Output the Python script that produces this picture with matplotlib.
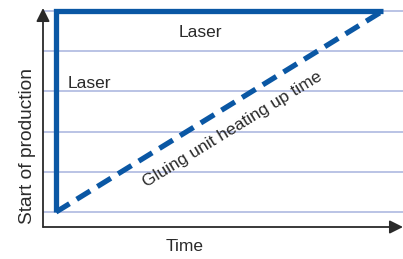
import matplotlib.pyplot as plt

# ---------- Data ----------
laser_t = [0, 0, 1]          # laser: ready immediately
laser_level = [0, 5, 5]
gluing_t = [0, 1]            # gluing unit: slow ramp
gluing_level = [0, 5]
grid_levels = [0, 1, 2, 3, 4, 5]

blue = '#0a57a4'
ink = '#2a2a2a'
plt.rcParams['font.family'] = ['Liberation Sans', 'DejaVu Sans']

fig = plt.figure(figsize=(4.03, 2.59), dpi=100)
ax = fig.add_axes([43 / 403, 1 - 227 / 259, 1 - 43 / 403, (227 - 8) / 259])
ax.set_xlim(-0.0398, 1.061)
ax.set_ylim(-0.373, 5.07)

for lv in grid_levels:
    ax.axhline(lv, color='#a7b3de', lw=1.1, zorder=1)

ax.plot(laser_t, laser_level, color=blue, lw=3.8, solid_joinstyle='miter',
        solid_capstyle='butt', zorder=3)
ax.plot(gluing_t, gluing_level, color=blue, lw=3.8, ls=(0, (3.0, 1.6)),
        dash_capstyle='butt', zorder=3)

# axes with arrow heads
for s in ax.spines.values():
    s.set_visible(False)
ax.set_xticks([])
ax.set_yticks([])
arrow = dict(arrowstyle='-|>', color=ink, lw=1.3, mutation_scale=20,
             shrinkA=0, shrinkB=0)
ax.annotate('', xy=(1.0, 0), xytext=(0, 0), xycoords='axes fraction',
            arrowprops=arrow)
ax.annotate('', xy=(0, 1.0), xytext=(0, 0), xycoords='axes fraction',
            arrowprops=arrow)

txt = dict(fontsize=12.5, color=ink)
ax.text(0.44, 4.47, 'Laser', ha='center', va='center', **txt)
ax.text(0.035, 3.2, 'Laser', ha='left', va='center', **txt)
ax.text(0.54, 2.05, 'Gluing unit heating up time', rotation=31.5,
        rotation_mode='anchor', ha='center', va='center', **txt)
ax.set_ylabel('Start of production', fontsize=13.8, color=ink)
ax.yaxis.set_label_coords(-0.02, 0.37)
ax.set_xlabel('Time', fontsize=12.5, color=ink)
ax.xaxis.set_label_coords(0.394, -0.055)

fig.savefig('out.png', dpi=100)
